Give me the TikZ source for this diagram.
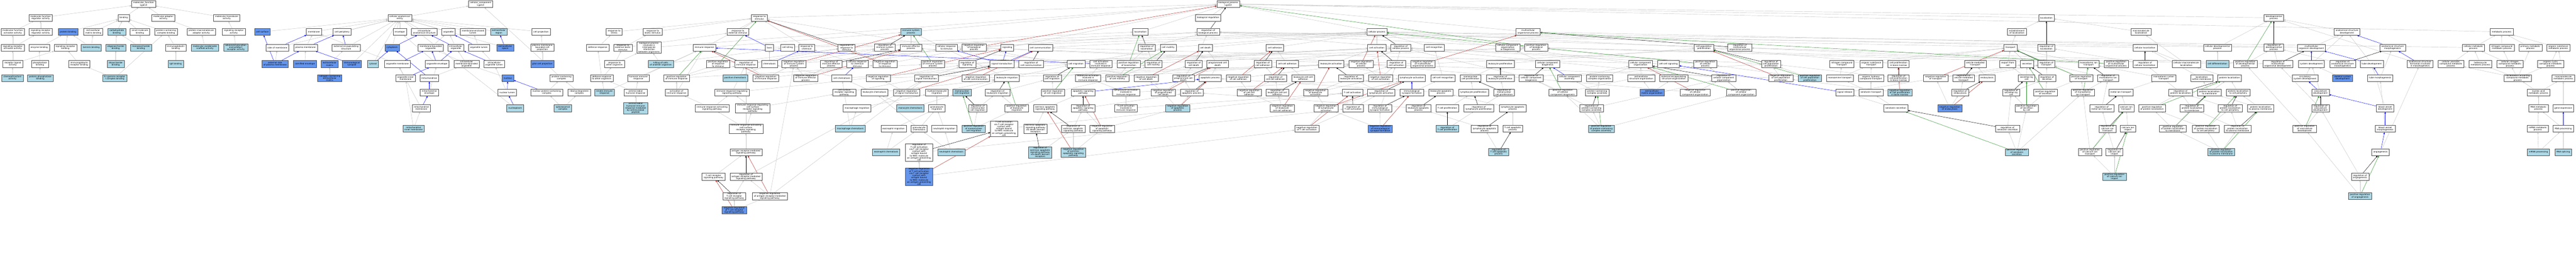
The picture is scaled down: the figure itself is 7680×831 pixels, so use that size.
\documentclass[tikz,border=0pt]{standalone}
\usepackage{fontspec}
\newfontfamily\gofont{DejaVu Sans}
\usetikzlibrary{arrows.meta,backgrounds}
\definecolor{lb}{RGB}{173,216,230}
\definecolor{db}{RGB}{100,149,237}
\definecolor{eg}{RGB}{195,195,195}
\definecolor{er}{RGB}{178,34,34}
\definecolor{egr}{RGB}{34,139,34}
\tikzset{
 n/.style={draw=black!70,line width=0.4pt,fill=white,align=center,inner xsep=2.5pt,inner ysep=0.5pt,minimum height=10.25pt,font=\gofont\fontsize{3.2}{3.25}\selectfont},
 lbn/.style={n,fill=lb},
 dbn/.style={n,fill=db},
 e/.style={line width=0.35pt,-{Triangle[length=2.5pt,width=2.2pt]}},
 isa/.style={e,color=eg},
 po/.style={e,color=blue},
 rg/.style={e,color=black},
 nr/.style={e,color=er},
 pr/.style={e,color=egr}
}
\begin{document}
\begin{tikzpicture}[x=0.5pt,y=-0.5pt]
\useasboundingbox (0,0) rectangle (7680,831);
% ---------------- molecular function ----------------
\node[n] (mf) at (428,12) {molecular\_function\\Lgals3};
\node[n] (mfreg) at (121,53) {molecular function\\regulator activity};
\node[n] (bind) at (369,53) {binding};
\node[n] (madapt) at (487,53) {molecular adaptor\\activity};
\node[n] (mtrans) at (676,53) {molecular transducer\\activity};
\node[n] (mfact) at (38,95) {molecular function\\activator activity};
\node[n] (srreg) at (121,95) {signaling receptor\\regulator activity};
\node[dbn] (pbind) at (203,95) {protein binding};
\node[n] (ecmb) at (278,95) {extracellular\\matrix binding};
\node[lbn] (carb) at (348,95) {carbohydrate\\binding};
\node[n] (smb) at (417,95) {small molecule\\binding};
\node[n] (pcb) at (495,95) {protein-containing\\complex binding};
\node[n] (pma) at (600,95) {protein-macromolecule\\adaptor activity};
\node[n] (sra) at (697,95) {signaling receptor\\activity};
\node[n] (sract) at (38,142) {signaling receptor\\activator activity};
\node[n] (enzb) at (117,142) {enzyme binding};
\node[n] (srb) at (195,142) {signaling receptor\\binding};
\node[lbn] (lamb) at (272,142) {laminin binding};
\node[lbn] (oligb) at (345,142) {oligosaccharide\\binding};
\node[lbn] (monob) at (420,142) {monosaccharide\\binding};
\node[n] (igb) at (524,142) {immunoglobulin\\binding};
\node[lbn] (mcsa) at (611,142) {molecular condensate\\scaffold activity};
\node[lbn] (ager) at (703,142) {advanced glycation\\end-product\\receptor activity};
\node[n] (rla) at (38,191) {receptor ligand\\activity};
\node[n] (phb) at (119,191) {phosphatase\\binding};
\node[n] (igrb) at (236,191) {immunoglobulin\\receptor binding};
\node[lbn] (disb) at (345,191) {disaccharide\\binding};
\node[lbn] (igeb) at (524,191) {IgE binding};
\node[lbn] (chem) at (37,233) {chemoattractant\\activity};
\node[lbn] (ppb) at (120,233) {protein phosphatase\\binding};
\node[lbn] (fcg) at (342,233) {Fc-gamma receptor\\I complex binding};
% ---------------- cellular component ----------------
\node[n] (cc) at (1433,12) {cellular\_component\\Lgals3};
\node[n] (cae) at (1192,53) {cellular anatomical\\entity};
\node[dbn] (csurf) at (782,95) {cell surface};
\node[n] (memb) at (936,95) {membrane};
\node[n] (cper) at (1020,95) {cell periphery};
\node[n] (env) at (1192,95) {envelope};
\node[n] (ias) at (1265,95) {intracellular\\anatomical structure};
\node[n] (org) at (1337,95) {organelle};
\node[n] (mel) at (1410,95) {membrane-enclosed\\lumen};
\node[lbn] (ecr) at (1487,95) {extracellular\\region};
\node[n] (cproj) at (1613,95) {cell projection};
\node[n] (som) at (827,142) {side of membrane};
\node[n] (pm) at (911,142) {plasma membrane};
\node[n] (ees) at (1032,142) {external encapsulating\\structure};
\node[dbn] (cyto) at (1169,142) {cytoplasm};
\node[n] (mbo) at (1284,142) {membrane-bounded\\organelle};
\node[n] (io) at (1359,142) {intracellular\\organelle};
\node[n] (ol) at (1428,142) {organelle lumen};
\node[dbn] (ecs) at (1506,142) {extracellular\\space};
\node[n] (pmbcp) at (1617,142) {plasma membrane\\bounded cell\\projection};
\node[dbn] (espm) at (820,191) {external side\\of plasma membrane};
\node[dbn] (corn) at (909,191) {cornified envelope};
\node[dbn] (ecm) at (983,191) {extracellular\\matrix};
\node[dbn] (isyn) at (1049,191) {immunological\\synapse};
\node[lbn] (cytosol) at (1112,191) {cytosol};
\node[n] (om) at (1185,191) {organelle membrane};
\node[n] (oenv) at (1303,191) {organelle envelope};
\node[n] (imbo) at (1391,191) {intracellular\\membrane-bounded\\organelle};
\node[n] (iol) at (1473,191) {intracellular\\organelle lumen};
\node[dbn] (gcp) at (1617,191) {glial cell projection};
\node[dbn] (cecm) at (983,233) {collagen-containing\\extracellular\\matrix};
\node[n] (oim) at (1209,233) {organelle inner\\membrane};
\node[n] (mito) at (1280,233) {mitochondrion};
\node[dbn] (nuc) at (1514,233) {nucleus};
\node[n] (pcc) at (1674,233) {protein-containing\\complex};
\node[n] (menv) at (1280,276) {mitochondrial\\envelope};
\node[n] (nlum) at (1512,276) {nuclear lumen};
\node[n] (npcc) at (1630,276) {nuclear protein-containing\\complex};
\node[n] (rnp) at (1727,276) {ribonucleoprotein\\complex};
\node[n] (mmem) at (1256,323) {mitochondrial\\membrane};
\node[lbn] (nplasm) at (1536,323) {nucleoplasm};
\node[lbn] (splice) at (1678,323) {spliceosomal\\complex};
\node[lbn] (mim) at (1233,384) {mitochondrial\\inner membrane};
% ---------------- biological process: response / immune ----------------
\node[n] (rts) at (1831,95) {response to\\stress};
\node[n] (rbs) at (1946,95) {response to\\biotic stimulus};
\node[n] (res) at (2200,95) {response to\\external stimulus};
\node[n] (bpi) at (1935,142) {biological process\\involved in\\interspecies\\interaction\\between organisms};
\node[n] (defr) at (1782,142) {defense response};
\node[n] (rebs) at (1857,142) {response to\\external biotic\\stimulus};
\node[n] (roo) at (1832,191) {response to\\other organism};
\node[n] (droo) at (1794,233) {defense response\\to other organism};
\node[n] (hir) at (1903,233) {humoral immune\\response};
\node[lbn] (iir) at (1802,276) {innate immune\\response};
\node[n] (ahr) at (1895,276) {antimicrobial\\humoral response};
\node[lbn] (ahir) at (1895,323) {antimicrobial\\humoral immune\\response mediated\\by antimicrobial\\peptide};
\node[n] (rstim) at (2264,53) {response to\\stimulus};
\node[n] (immr) at (2100,142) {immune response};
\node[n] (taxis) at (2294,142) {taxis};
\node[n] (ckill) at (2348,142) {cell killing};
\node[n] (rchem) at (2405,142) {response to\\chemical};
\node[n] (rrs) at (2524,142) {regulation of\\response to\\stimulus};
\node[lbn] (kill) at (1970,191) {killing of cells\\of another organism};
\node[n] (prrs) at (2141,191) {positive regulation\\of response\\to stimulus};
\node[n] (rir) at (2224,191) {regulation of\\immune response};
\node[n] (chemo) at (2294,191) {chemotaxis};
\node[n] (nrisp) at (2367,191) {negative regulation\\of immune system\\process};
\node[n] (riep) at (2478,191) {regulation of\\immune effector\\process};
\node[n] (crcs) at (2556,191) {cellular response\\to chemical\\stimulus};
\node[n] (prir) at (2017,233) {positive regulation\\of immune response};
\node[lbn] (pchem) at (2192,233) {positive chemotaxis};
\node[n] (nrir) at (2283,233) {negative regulation\\of immune response};
\node[n] (nriep) at (2402,233) {negative regulation\\of immune effector\\process};
\node[n] (cchemo) at (2510,233) {cell chemotaxis};
\node[n] (air) at (2017,276) {activation of\\immune response};
\node[n] (irrsp) at (2182,276) {immune response-regulating\\signaling pathway};
\node[n] (csrsp) at (2517,276) {cell surface\\receptor signaling\\pathway};
\node[n] (irasp) at (2123,323) {immune response-activating\\signaling pathway};
\node[n] (irrcs) at (2244,323) {immune response-regulating\\cell surface\\receptor signaling\\pathway};
\node[n] (macmig) at (2555,323) {macrophage migration};
\node[n] (iracs) at (2224,384) {immune response-activating\\cell surface\\receptor signaling\\pathway};
\node[lbn] (macchem) at (2535,384) {macrophage chemotaxis};
\node[n] (armsp) at (2224,454) {antigen receptor-mediated\\signaling pathway};
\node[n] (tcrsp) at (2127,527) {T cell receptor\\signaling pathway};
\node[n] (rarmsp) at (2224,527) {regulation of\\antigen receptor-mediated\\signaling pathway};
\node[n] (rtcrsp) at (2189,585) {regulation of\\T cell receptor\\signaling pathway};
\node[n] (nrarmsp) at (2295,585) {negative regulation\\of antigen receptor-mediated\\signaling pathway};
\node[dbn] (nrtcrsp) at (2189,627) {negative regulation\\of T cell receptor\\signaling pathway};
% ---------------- immune system / signaling / migration ----------------
\node[lbn] (isp) at (2716,95) {immune system\\process};
\node[n] (risp) at (2638,142) {regulation of\\immune system\\process};
\node[n] (iep) at (2716,142) {immune effector\\process};
\node[n] (crs) at (2822,142) {cellular response\\to stimulus};
\node[n] (nrbp) at (2904,142) {negative regulation\\of biological\\process};
\node[n] (signaling) at (3003,142) {signaling};
\node[n] (ccomm) at (3102,142) {cell communication};
\node[n] (nrrs) at (2638,191) {negative regulation\\of response\\to stimulus};
\node[n] (prisp) at (2781,191) {positive regulation\\of immune system\\process};
\node[n] (rsig) at (2884,191) {regulation of\\signaling};
\node[n] (sigtr) at (2987,191) {signal transduction};
\node[n] (rcc) at (3074,191) {regulation of\\cell communication};
\node[n] (cmig) at (3208,191) {cell migration};
\node[n] (nrsig) at (2618,233) {negative regulation\\of signaling};
\node[n] (rst) at (2762,233) {regulation of\\signal transduction};
\node[n] (nrcc) at (2909,233) {negative regulation\\of cell communication};
\node[n] (lmig) at (3002,233) {leukocyte migration};
\node[n] (rcm) at (3137,233) {regulation of\\cell migration};
\node[n] (lchem) at (2607,276) {leukocyte chemotaxis};
\node[n] (nrst) at (2703,276) {negative regulation\\of signal transduction};
\node[n] (mlm) at (2793,276) {myeloid leukocyte\\migration};
\node[lbn] (mcm) at (2868,276) {mononuclear\\cell migration};
\node[n] (rlm) at (2974,276) {regulation of\\leukocyte migration};
\node[n] (prcm) at (3139,276) {positive regulation\\of cell migration};
\node[n] (asp) at (3229,276) {apoptotic signaling\\pathway};
\node[lbn] (monochem) at (2714,323) {monocyte chemotaxis};
\node[n] (gmig) at (2793,323) {granulocyte\\migration};
\node[n] (rmcm) at (2915,323) {regulation of\\mononuclear\\cell migration};
\node[n] (prlm) at (3031,323) {positive regulation\\of leukocyte\\migration};
\node[n] (easp) at (3116,323) {extrinsic apoptotic\\signaling pathway};
\node[n] (rasp) at (3229,323) {regulation of\\apoptotic signaling\\pathway};
\node[n] (emig) at (2664,384) {eosinophil migration};
\node[n] (gchem) at (2740,384) {granulocyte\\chemotaxis};
\node[n] (nmig) at (2815,384) {neutrophil migration};
\node[lbn] (prmcm) at (2903,384) {positive regulation\\of mononuclear\\cell migration};
\node[n] (tcav) at (2993,384) {T cell activation\\via T cell receptor\\contact with\\antigen bound\\to MHC molecule\\on antigen presenting\\cell};
\node[n] (easpdd) at (3087,384) {extrinsic apoptotic\\signaling pathway\\via death domain\\receptors};
\node[n] (reasp) at (3200,384) {regulation of\\extrinsic apoptotic\\signaling pathway};
\node[lbn] (echem) at (2642,454) {eosinophil chemotaxis};
\node[n] (rtcav) at (2740,455) {regulation of\\T cell activation\\via T cell receptor\\contact with\\antigen bound\\to MHC molecule\\on antigen presenting\\cell};
\node[lbn] (nchem) at (2836,454) {neutrophil chemotaxis};
\node[lbn] (reaspdd) at (3101,455) {regulation of\\extrinsic apoptotic\\signaling pathway\\via death domain\\receptors};
\node[lbn] (nreasp) at (3200,455) {negative regulation\\of extrinsic\\apoptotic signaling\\pathway};
\node[dbn] (nrtcav) at (2740,527) {negative regulation\\of T cell activation\\via T cell receptor\\contact with\\antigen bound\\to MHC molecule\\on antigen presenting\\cell};
% ---------------- bp root / locomotion / death / adhesion ----------------
\node[n] (bp) at (3662,12) {biological\_process\\Lgals3};
\node[n] (breg) at (3602,53) {biological regulation};
\node[n] (loco) at (3400,95) {locomotion};
\node[n] (rbp) at (3602,95) {regulation of\\biological process};
\node[n] (rloco) at (3419,142) {regulation of\\locomotion};
\node[n] (cmot) at (3483,142) {cell motility};
\node[n] (cdeath) at (3594,142) {cell death};
\node[n] (cadh) at (3801,142) {cell adhesion};
\node[n] (caiir) at (3282,191) {cell activation\\involved in\\immune response};
\node[n] (prloco) at (3365,191) {positive regulation\\of locomotion};
\node[n] (rcmot) at (3439,191) {regulation of\\cell motility};
\node[n] (rcd) at (3559,191) {regulation of\\cell death};
\node[n] (pcd) at (3630,191) {programmed cell\\death};
\node[n] (rca) at (3765,191) {regulation of\\cell adhesion};
\node[n] (cca) at (3838,191) {cell-cell adhesion};
\node[n] (laiir) at (3244,233) {leukocyte activation\\involved in\\immune response};
\node[n] (prcmot) at (3331,233) {positive regulation\\of cell motility};
\node[n] (nrcd) at (3417,233) {negative regulation\\of cell death};
\node[n] (rpcd) at (3528,233) {regulation of\\programmed cell\\death};
\node[n] (apop) at (3608,233) {apoptotic process};
\node[n] (nrca) at (3692,233) {negative regulation\\of cell adhesion};
\node[n] (rcca) at (3803,233) {regulation of\\cell-cell adhesion};
\node[n] (lyaiir) at (3357,276) {lymphocyte activation\\involved in\\immune response};
\node[n] (nrpcd) at (3468,276) {negative regulation\\of programmed\\cell death};
\node[n] (rap) at (3553,276) {regulation of\\apoptotic process};
\node[n] (nrcca) at (3724,276) {negative regulation\\of cell-cell\\adhesion};
\node[n] (rlcca) at (3808,276) {regulation of\\leukocyte cell-cell\\adhesion};
\node[n] (tcaiir) at (3357,323) {T cell activation\\involved in\\immune response};
\node[lbn] (nrap) at (3511,323) {negative regulation\\of apoptotic\\process};
\node[n] (nrlcca) at (3823,323) {negative regulation\\of leukocyte\\cell-cell adhesion};
\node[n] (nrasp) at (3286,384) {negative regulation\\of apoptotic\\signaling pathway};
% ---------------- cellular process / activation ----------------
\node[n] (cproc) at (4105,95) {cellular process};
\node[n] (cact) at (4105,142) {cell activation};
\node[n] (rcp) at (4176,142) {regulation of\\cellular process};
\node[n] (crec) at (4276,142) {cell recognition};
\node[n] (ccob) at (4495,142) {cellular component\\organization\\or biogenesis};
\node[n] (lact) at (3969,191) {leukocyte activation};
\node[n] (nrcp) at (4058,191) {negative regulation\\of cellular\\process};
\node[n] (rcact) at (4163,191) {regulation of\\cell activation};
\node[n] (nrmop) at (4242,191) {negative regulation\\of multicellular\\organismal process};
\node[n] (lprol) at (4473,191) {leukocyte proliferation};
\node[n] (lcca) at (3885,233) {leukocyte cell-cell\\adhesion};
\node[n] (rlact) at (4028,233) {regulation of\\leukocyte activation};
\node[n] (nrcact) at (4116,233) {negative regulation\\of cell activation};
\node[n] (lyact) at (4209,233) {lymphocyte activation};
\node[n] (ccrec) at (4302,233) {cell-cell recognition};
\node[n] (mcprol) at (4384,233) {mononuclear\\cell proliferation};
\node[n] (rlprol) at (4473,233) {regulation of\\leukocyte proliferation};
\node[n] (nrlact) at (3922,276) {negative regulation\\of leukocyte\\activation};
\node[n] (tcact) at (4032,276) {T cell activation};
\node[n] (rlyact) at (4118,276) {regulation of\\lymphocyte activation};
\node[n] (isf) at (4209,276) {immunological\\synapse formation};
\node[n] (lap) at (4296,276) {leukocyte apoptotic\\process};
\node[n] (lyprol) at (4393,276) {lymphocyte proliferation};
\node[n] (rmcprol) at (4484,276) {regulation of\\mononuclear\\cell proliferation};
\node[n] (nrlyact) at (3953,323) {negative regulation\\of lymphocyte\\activation};
\node[n] (rtcact) at (4034,323) {regulation of\\T cell activation};
\node[n] (risf) at (4114,323) {regulation of\\immunological\\synapse formation};
\node[n] (rlap) at (4229,323) {regulation of\\leukocyte apoptotic\\process};
\node[n] (tcprol) at (4315,323) {T cell proliferation};
\node[n] (rlyprol) at (4409,323) {regulation of\\lymphocyte proliferation};
\node[n] (lyap) at (4510,323) {lymphocyte apoptotic\\process};
\node[n] (nrtcact) at (3896,384) {negative regulation\\of T cell activation};
\node[dbn] (nrisf) at (4115,384) {negative regulation\\of immunological\\synapse formation};
\node[lbn] (rtcprol) at (4315,384) {regulation of\\T cell proliferation};
\node[n] (rlyap) at (4426,384) {regulation of\\lymphocyte apoptotic\\process};
\node[n] (tcap) at (4510,384) {T cell apoptotic\\process};
\node[lbn] (rtcap) at (4468,454) {regulation of\\T cell apoptotic\\process};
% ---------------- component organization ----------------
\node[n] (mop) at (4556,95) {multicellular\\organismal process};
\node[n] (prbp) at (4580,142) {positive regulation\\of biological\\process};
\node[n] (cpp) at (5080,142) {cell population\\proliferation};
\node[n] (ccbio) at (4614,191) {cellular component\\biogenesis};
\node[n] (ccorg) at (4891,191) {cellular component\\organization};
\node[n] (ccsig) at (4974,191) {cell-cell signaling};
\node[n] (prcp) at (5084,191) {positive regulation\\of cellular\\process};
\node[n] (rccb) at (4565,233) {regulation of\\cellular component\\biogenesis};
\node[n] (cca2) at (4679,233) {cellular component\\assembly};
\node[n] (pcco) at (4769,233) {protein-containing\\complex organization};
\node[n] (eso) at (4893,233) {extracellular\\structure organization};
\node[n] (eeso) at (4990,233) {external encapsulating\\structure organization};
\node[n] (rcco) at (5139,233) {regulation of\\cellular component\\organization};
\node[n] (prccb) at (4659,276) {positive regulation\\of cellular\\component biogenesis};
\node[n] (pcca) at (4762,276) {protein-containing\\complex assembly};
\node[dbn] (ecmo) at (4925,276) {extracellular\\matrix organization};
\node[n] (nrcco) at (5054,276) {negative regulation\\of cellular\\component organization};
\node[n] (rpcca) at (4745,323) {regulation of\\protein-containing\\complex assembly};
\node[lbn] (prpcca) at (4774,384) {positive regulation\\of protein-containing\\complex assembly};
% ---------------- proliferation / transport ----------------
\node[n] (rmop) at (5187,142) {regulation of\\multicellular\\organismal process};
\node[n] (rcpp) at (5280,191) {regulation of\\cell population\\proliferation};
\node[n] (nct) at (5491,191) {nitrogen compound\\transport};
\node[n] (ost) at (5579,191) {organic substance\\transport};
\node[n] (cpbm) at (5660,191) {cell proliferation\\in bone marrow};
\node[n] (nrcpp) at (5309,233) {negative regulation\\of cell population\\proliferation};
\node[lbn] (prcpp) at (5396,233) {positive regulation\\of cell population\\proliferation};
\node[n] (mat) at (5485,233) {monoamine transport};
\node[n] (ohct) at (5578,233) {organic hydroxy\\compound transport};
\node[n] (rcpbm) at (5660,233) {regulation of\\cell proliferation\\in bone marrow};
\node[n] (nrtr) at (5771,233) {negative regulation\\of transport};
\node[n] (prcco) at (5191,276) {positive regulation\\of cellular\\component organization};
\node[n] (srel) at (5500,276) {signal release};
\node[n] (sert) at (5578,276) {serotonin transport};
\node[lbn] (nrcpbm) at (5664,276) {negative regulation\\of cell proliferation\\in bone marrow};
\node[n] (sers) at (5652,323) {serotonin secretion};
\node[n] (loc) at (6101,53) {localization};
\node[n] (eloc) at (6013,95) {establishment\\of localization};
\node[n] (mloc) at (6383,95) {macromolecule\\localization};
\node[n] (transp) at (5994,142) {transport};
\node[n] (rloc) at (6101,142) {regulation of\\localization};
\node[n] (cloc) at (6395,142) {cellular localization};
\node[n] (vmt) at (5889,191) {vesicle-mediated\\transport};
\node[n] (efc) at (5986,191) {export from\\cell};
\node[n] (secr) at (6043,191) {secretion};
\node[n] (rtr) at (6101,191) {regulation of\\transport};
\node[n] (mit) at (6227,191) {monoatomic ion\\transport};
\node[n] (prmop) at (6309,191) {positive regulation\\of multicellular\\organismal process};
\node[n] (rcloc) at (6395,191) {regulation of\\cellular localization};
\node[n] (rvmt) at (5854,233) {regulation of\\vesicle-mediated\\transport};
\node[n] (endo) at (5924,233) {endocytosis};
\node[n] (sbc) at (6042,233) {secretion by\\cell};
\node[n] (rsec) at (6103,233) {regulation of\\secretion};
\node[n] (prtr) at (6205,233) {positive regulation\\of transport};
\node[n] (rmit) at (6285,233) {regulation of\\monoatomic ion\\transport};
\node[n] (mct) at (6451,233) {monoatomic cation\\transport};
\node[n] (lwm) at (6564,233) {localization\\within membrane};
\node[n] (ploc) at (6647,233) {protein localization};
\node[n] (rendo) at (5844,276) {regulation of\\endocytosis};
\node[n] (rsbc) at (5996,276) {regulation of\\secretion by\\cell};
\node[n] (prsec) at (6098,276) {positive regulation\\of secretion};
\node[n] (prmit) at (6210,276) {positive regulation\\of monoatomic\\ion transport};
\node[n] (metit) at (6323,276) {metal ion transport};
\node[n] (rploc) at (6501,276) {regulation of\\protein localization};
\node[n] (plm) at (6587,276) {protein localization\\to membrane};
\node[n] (plcp) at (6673,276) {protein localization\\to cell periphery};
\node[dbn] (nrendo) at (5813,323) {negative regulation\\of endocytosis};
\node[n] (prsbc) at (6042,323) {positive regulation\\of secretion\\by cell};
\node[n] (rmetit) at (6266,323) {regulation of\\metal ion transport};
\node[n] (cait) at (6339,323) {calcium ion\\transport};
\node[n] (prploc) at (6416,323) {positive regulation\\of protein localization};
\node[n] (rplm) at (6535,323) {regulation of\\protein localization\\to membrane};
\node[n] (rplcp) at (6649,323) {regulation of\\protein localization\\to cell periphery};
\node[n] (plpm) at (6739,323) {protein localization\\to plasma membrane};
\node[n] (rss) at (5985,384) {regulation of\\serotonin secretion};
\node[n] (rcait) at (6283,384) {regulation of\\calcium ion\\transport};
\node[n] (caii) at (6344,384) {calcium ion\\import};
\node[n] (prplm) at (6478,384) {positive regulation\\of protein localization\\to membrane};
\node[n] (prplcp) at (6576,384) {positive regulation\\of protein localization\\to cell periphery};
\node[n] (rplpm) at (6671,384) {regulation of\\protein localization\\to plasma membrane};
\node[lbn] (prss) at (6013,454) {positive regulation\\of serotonin\\secretion};
\node[n] (prcait) at (6231,454) {positive regulation\\of calcium ion\\transport};
\node[n] (rcaii) at (6304,454) {regulation of\\calcium ion\\import};
\node[lbn] (prplpm) at (6622,454) {positive regulation\\of protein localization\\to plasma membrane};
\node[lbn] (prcaii) at (6304,527) {positive regulation\\of calcium ion\\import};
% ---------------- development / metabolism ----------------
\node[n] (devp) at (6779,53) {developmental\\process};
\node[n] (asd) at (6997,95) {anatomical structure\\development};
\node[n] (mp) at (7458,95) {metabolic process};
\node[n] (cdp) at (6611,142) {cellular developmental\\process};
\node[n] (rdp) at (6779,142) {regulation of\\developmental\\process};
\node[n] (mod) at (6891,142) {multicellular\\organism development};
\node[n] (asm) at (7133,142) {anatomical structure\\morphogenesis};
\node[n] (cmp) at (7374,142) {cellular metabolic\\process};
\node[n] (ncmp) at (7459,142) {nitrogen compound\\metabolic process};
\node[n] (pmp) at (7544,142) {primary metabolic\\process};
\node[n] (osmp) at (7627,142) {organic substance\\metabolic process};
\node[n] (cml) at (6518,191) {cellular macromolecule\\localization};
\node[lbn] (cdiff) at (6611,191) {cell differentiation};
\node[n] (prdp) at (6694,191) {positive regulation\\of developmental\\process};
\node[n] (rmod) at (6791,191) {regulation of\\multicellular\\organismal development};
\node[n] (sysd) at (6891,191) {system development};
\node[n] (rasm) at (6984,191) {regulation of\\anatomical structure\\morphogenesis};
\node[n] (tubed) at (7071,191) {tube development};
\node[n] (asfm) at (7215,191) {anatomical structure\\formation involved\\in morphogenesis};
\node[n] (cacmp) at (7307,191) {cellular aromatic\\compound metabolic\\process};
\node[n] (hmp) at (7395,191) {heterocycle\\metabolic process};
\node[n] (cncmp) at (7483,191) {cellular nitrogen\\compound metabolic\\process};
\node[n] (occmp) at (7604,191) {organic cyclic\\compound metabolic\\process};
\node[n] (csd) at (6872,233) {circulatory\\system development};
\node[dbn] (ssd) at (6984,233) {skeletal system\\development};
\node[n] (tubem) at (7096,233) {tube morphogenesis};
\node[n] (nbcmp) at (7506,233) {nucleobase-containing\\compound metabolic\\process};
\node[n] (mmp) at (7642,233) {macromolecule\\metabolic process};
\node[n] (vd) at (6918,276) {vasculature\\development};
\node[n] (namp) at (7568,276) {nucleic acid\\metabolic process};
\node[n] (rvd) at (6918,323) {regulation of\\vasculature\\development};
\node[n] (bvd) at (7111,323) {blood vessel\\development};
\node[n] (rnamp) at (7568,323) {RNA metabolic\\process};
\node[n] (gexp) at (7642,323) {gene expression};
\node[n] (prvd) at (6871,384) {positive regulation\\of vasculature\\development};
\node[n] (bvm) at (7111,384) {blood vessel\\morphogenesis};
\node[n] (mrnamp) at (7566,384) {mRNA metabolic\\process};
\node[n] (rnap) at (7642,384) {RNA processing};
\node[n] (angio) at (7097,454) {angiogenesis};
\node[lbn] (mrnap) at (7568,454) {mRNA processing};
\node[lbn] (rnas) at (7642,454) {RNA splicing};
\node[n] (rangio) at (7036,527) {regulation of\\angiogenesis};
\node[lbn] (prangio) at (7036,585) {positive regulation\\of angiogenesis};
% ================= connectors =================
\begin{scope}[on background layer]
\fill[white] (0,0) rectangle (7680,831);
% is_a (grey)
\foreach \a/\b in {mfreg/mf,bind/mf,madapt/mf,mtrans/mf,mfact/mfreg,srreg/mfreg,pbind/bind,ecmb/bind,carb/bind,smb/bind,pcb/bind,pma/madapt,sra/mtrans,sract/mfact,sract/srreg,enzb/pbind,srb/pbind,lamb/pbind,lamb/ecmb,oligb/carb,monob/carb,monob/smb,igb/pcb,mcsa/pma,ager/sra,rla/sract,rla/srb,phb/enzb,igrb/srb,disb/oligb,igeb/igb,chem/rla,ppb/phb,fcg/igrb,fcg/pcb}
  \draw[isa] (\a) -- (\b);
\foreach \a/\b in {cae/cc,pcc/cc,csurf/cae,memb/cae,cper/cae,env/cae,ias/cae,org/cae,mel/cae,ecr/cae,cproj/cae,som/cae,ees/cae,cyto/cae,cytosol/cae,isyn/cae,ecs/cae,nplasm/cae,espm/som,corn/pm,ecm/ees,cecm/ecm,om/memb,mbo/org,oenv/env,mito/imbo,oim/om,menv/oenv,mmem/om,mim/mmem,mim/oim,io/org,ol/mel,imbo/mbo,imbo/io,iol/ol,nuc/imbo,nlum/iol,pmbcp/cproj,gcp/pmbcp,npcc/pcc,rnp/pcc,splice/npcc,splice/rnp,pm/memb}
  \draw[isa] (\a) -- (\b);
\foreach \a/\b in {breg/bp,loco/bp,rstim/bp,isp/bp,cproc/bp,mop/bp,loc/bp,devp/bp,mp/bp,bpi/bp,signaling/bp,rts/rstim,rbs/rstim,res/rstim,rchem/rstim,immr/isp,immr/rstim,defr/rts,rebs/rbs,rebs/res,roo/rebs,roo/bpi,droo/defr,droo/roo,hir/immr,iir/droo,iir/immr,ahr/droo,ahr/hir,ahir/ahr,taxis/loco,ckill/cproc,kill/ckill,kill/bpi,chemo/taxis,prrs/rrs,rrs/rbp,rir/rrs,rir/risp,prir/rir,prir/prrs,prir/prisp,pchem/chemo,nrir/rir,nrir/nrrs,nrir/nrisp,nrisp/risp,nrisp/nrbp,riep/risp,nriep/riep,nriep/nrisp,cchemo/chemo,cchemo/cmig,crcs/rchem,crcs/crs,air/prir,air/immr,irrsp/rir,irrsp/sigtr,irasp/irrsp,irasp/air,irrcs/irrsp,irrcs/csrsp,iracs/irasp,iracs/irrcs,armsp/iracs,tcrsp/armsp,rarmsp/rir,rarmsp/rst,nrarmsp/rarmsp,nrarmsp/nrisp,nrarmsp/nrst,rtcrsp/rarmsp,nrtcrsp/rtcrsp,nrtcrsp/nrarmsp,macmig/mlm,macchem/macmig,macchem/cchemo,csrsp/sigtr}
  \draw[isa] (\a) -- (\b);
\foreach \a/\b in {iep/isp,crs/rstim,crs/cproc,nrbp/rbp,ccomm/cproc,nrrs/rrs,nrrs/nrbp,prisp/risp,prisp/prbp,rsig/rcp,rcc/rcp,nrsig/rsig,nrsig/nrcp,rst/rsig,nrcc/rcc,nrcc/nrcp,nrst/rst,nrst/nrsig,lmig/cmig,lmig/isp,rlm/rcm,rcm/rcmot,prcm/rcm,prcm/prcmot,prlm/rlm,prlm/prcm,lchem/lmig,lchem/cchemo,mlm/lmig,mcm/lmig,monochem/mcm,monochem/lchem,gmig/mlm,rmcm/rlm,prmcm/rmcm,prmcm/prlm,emig/gmig,gchem/gmig,gchem/lchem,nmig/gmig,echem/emig,echem/gchem,nchem/nmig,nchem/gchem,tcav/tcact,rtcav/rtcact,nrtcav/rtcav,nrtcav/nrtcact,easp/asp,easpdd/easp,reaspdd/reasp,reasp/rasp,nreasp/reasp,nreasp/nrasp,rasp/rap,nrasp/rasp,nrasp/nrap,cmig/cmot}
  \draw[isa] (\a) -- (\b);
\foreach \a/\b in {rloco/rbp,cmot/cproc,prloco/rloco,prloco/prbp,rcmot/rloco,prcmot/rcmot,prcmot/prloco,cdeath/cproc,pcd/cdeath,rcd/rbp,nrcd/rcd,nrcd/nrbp,rpcd/rcd,apop/pcd,nrpcd/rpcd,nrpcd/nrcd,rap/rpcd,nrap/rap,nrap/nrpcd,caiir/cact,caiir/iep,laiir/caiir,laiir/lact,lyaiir/laiir,lyaiir/lyact,tcaiir/lyaiir,tcaiir/tcact,cadh/cproc,rca/rcp,cca/cadh,nrca/rca,nrca/nrcp,rcca/rca,nrcca/rcca,nrcca/nrca,rlcca/rcca,nrlcca/rlcca,nrlcca/nrcca,lcca/cca}
  \draw[isa] (\a) -- (\b);
\foreach \a/\b in {cact/cproc,rcp/rbp,crec/cproc,ccob/cproc,lact/cact,nrcp/rcp,nrcp/nrbp,rcact/rcp,nrmop/nrbp,nrmop/rmop,lprol/cpp,rlact/rcact,nrcact/rcact,nrcact/nrcp,lyact/lact,ccrec/crec,mcprol/lprol,rlprol/rcpp,nrlact/rlact,nrlact/nrcact,tcact/lyact,rlyact/rlact,isf/ccrec,lap/apop,lyprol/mcprol,rmcprol/rlprol,nrlyact/rlyact,nrlyact/nrlact,rtcact/rlyact,risf/rcact,rlap/rap,tcprol/lyprol,rlyprol/rmcprol,lyap/lap,nrtcact/rtcact,nrtcact/nrlyact,nrisf/risf,nrisf/nrlyact,rtcprol/rlyprol,rlyap/rlap,tcap/lyap,rtcap/rlyap}
  \draw[isa] (\a) -- (\b);
\foreach \a/\b in {prbp/rbp,cpp/cproc,ccbio/ccob,ccorg/ccob,ccsig/ccomm,prcp/rcp,prcp/prbp,rccb/rcp,cca2/ccorg,pcco/ccorg,eso/ccorg,eeso/ccorg,rcco/rcp,prccb/rccb,prccb/prcp,pcca/cca2,pcca/pcco,ecmo/eso,ecmo/eeso,nrcco/rcco,nrcco/nrcp,rpcca/rccb,rpcca/rcco,prpcca/rpcca,prpcca/prccb,prpcca/prcco,rmop/rbp,rcpp/rcp,nct/transp,ost/transp,cpbm/cpp,nrcpp/rcpp,nrcpp/nrcp,prcpp/rcpp,prcpp/prcp,mat/nct,mat/ost,ohct/ost,rcpbm/rcpp,nrtr/rtr,prcco/rcco,prcco/prcp,srel/secr,sert/mat,sert/ohct,nrcpbm/rcpbm,nrcpbm/nrcpp,sers/srel,sers/sert}
  \draw[isa] (\a) -- (\b);
\foreach \a/\b in {eloc/loc,mloc/loc,transp/eloc,rloc/rbp,cloc/cproc,vmt/transp,efc/transp,secr/transp,rtr/rloc,mit/transp,prmop/rmop,prmop/prbp,rcloc/rloc,rvmt/rtr,endo/vmt,sbc/secr,sbc/efc,rsec/rtr,prtr/rtr,rmit/rtr,mct/mit,lwm/cloc,ploc/cml,cml/mloc,cml/cloc,rendo/rvmt,rsbc/rsec,prsec/rsec,prsec/prtr,prmit/rmit,prmit/prtr,metit/mct,rploc/rcloc,plm/ploc,plm/lwm,plcp/ploc,nrendo/rendo,nrendo/nrtr,prsbc/rsbc,prsbc/prsec,rmetit/rmit,cait/metit,prploc/rploc,rplm/rploc,rplcp/rploc,plpm/plcp,plpm/plm,rss/rsbc,rcait/rmetit,caii/cait,prplm/rplm,prplm/prploc,prplcp/rplcp,prplcp/prploc,rplpm/rplcp,rplpm/rplm,prss/rss,prss/prsbc,prss/prmit,prcait/rcait,prcait/prmit,rcaii/rcait,prplpm/rplpm,prplpm/prplcp,prplpm/prplm,prcaii/rcaii,prcaii/prcait}
  \draw[isa] (\a) -- (\b);
\foreach \a/\b in {asd/devp,cdp/devp,rdp/rbp,mod/asd,mod/mop,cmp/mp,cmp/cproc,ncmp/mp,pmp/mp,osmp/mp,cdiff/cdp,prdp/rdp,prdp/prbp,rmod/rdp,rmod/rmop,sysd/asd,rasm/rdp,tubed/asd,asfm/devp,cacmp/cmp,hmp/cmp,cncmp/cmp,cncmp/ncmp,occmp/osmp,csd/sysd,ssd/sysd,tubem/asm,nbcmp/cacmp,nbcmp/hmp,nbcmp/cncmp,nbcmp/pmp,nbcmp/occmp,mmp/osmp,vd/sysd,namp/nbcmp,namp/mmp,rvd/rmod,bvd/tubed,rnamp/namp,gexp/mmp,prvd/rvd,prvd/prdp,bvm/tubem,mrnamp/rnamp,rnap/rnamp,angio/asfm,mrnap/mrnamp,mrnap/rnap,rnas/rnap,rangio/rvd,prangio/rangio,prangio/prvd}
  \draw[isa] (\a) -- (\b);
% part_of (blue)
\foreach \a/\b in {espm/csurf,som/memb,pm/cper,ees/cper,espm/pm,isyn/pm,cyto/ias,cytosol/cyto,om/mbo,mito/cyto,oim/oenv,menv/mito,mmem/menv,io/ias,ol/org,oenv/mbo,oenv/io,ecs/ecr,iol/io,nlum/nuc,nplasm/nlum,npcc/nuc,taxis/res,chemo/rchem,cchemo/crcs,sigtr/signaling,sigtr/ccomm,sigtr/crs,asp/apop,isf/lyact,srel/ccsig,cca2/ccbio,sysd/mod,tubed/mod,vd/csd,asm/asd,tubem/tubed,bvd/vd,bvm/bvd,asfm/asm,angio/bvm,rnap/gexp,caiir/immr}
  \draw[po] (\a) -- (\b);
% regulates (black)
\foreach \a/\b in {rrs/rstim,rir/immr,risp/isp,riep/iep,rarmsp/armsp,rtcrsp/tcrsp,rsig/signaling,rcc/ccomm,rst/sigtr,rlm/lmig,rcm/cmig,rmcm/mcm,rtcav/tcav,reaspdd/easpdd,reasp/easp,rasp/asp,rbp/bp,rloco/loco,rcmot/cmot,rcd/cdeath,rpcd/pcd,rap/apop,rca/cadh,rcca/cca,rlcca/lcca,rcp/cproc,rcact/cact,rlact/lact,rlprol/lprol,rlyact/lyact,rmcprol/mcprol,rtcact/tcact,risf/isf,rlap/lap,rlyprol/lyprol,rtcprol/tcprol,rlyap/lyap,rtcap/tcap,rmop/mop,rcpp/cpp,rccb/ccbio,rcco/ccorg,rpcca/pcca,rcpbm/cpbm,rss/sers,rloc/loc,rtr/transp,rcloc/cloc,rvmt/vmt,rendo/endo,rsbc/sbc,rsec/secr,rmit/mit,rmetit/metit,rcait/cait,rcaii/caii,rploc/ploc,rplm/plm,rplcp/plcp,rplpm/plpm,rdp/devp,rmod/mod,rasm/asm,rvd/vd,rangio/angio}
  \draw[rg] (\a) -- (\b);
% negatively regulates (red)
\foreach \a/\b in {nrir/immr,nrisp/isp,nriep/iep,nrarmsp/armsp,nrtcrsp/tcrsp,nrrs/rstim,nrbp/bp,nrsig/signaling,nrcc/ccomm,nrst/sigtr,nrtcav/tcav,nreasp/easp,nrasp/asp,nrcd/cdeath,nrpcd/pcd,nrap/apop,nrca/cadh,nrcca/cca,nrlcca/lcca,nrcp/cproc,nrmop/mop,nrcact/cact,nrlact/lact,nrlyact/lyact,nrtcact/tcact,nrisf/isf,nrcco/ccorg,nrcpp/cpp,nrcpbm/cpbm,nrtr/transp,nrendo/endo}
  \draw[nr] (\a) -- (\b);
% positively regulates (green)
\foreach \a/\b in {prrs/rstim,prir/immr,prisp/isp,prlm/lmig,prcm/cmig,prmcm/mcm,prbp/bp,prloco/loco,prcmot/cmot,prcp/cproc,prccb/ccbio,prpcca/pcca,prcpp/cpp,prcco/ccorg,prmop/mop,prtr/transp,prsec/secr,prsbc/sbc,prmit/mit,prss/sers,prcait/cait,prcaii/caii,prploc/ploc,prplm/plm,prplcp/plcp,prplpm/plpm,prdp/devp,prvd/vd,prangio/angio}
  \draw[pr] (\a) -- (\b);
\end{scope}
\end{tikzpicture}
\end{document}
